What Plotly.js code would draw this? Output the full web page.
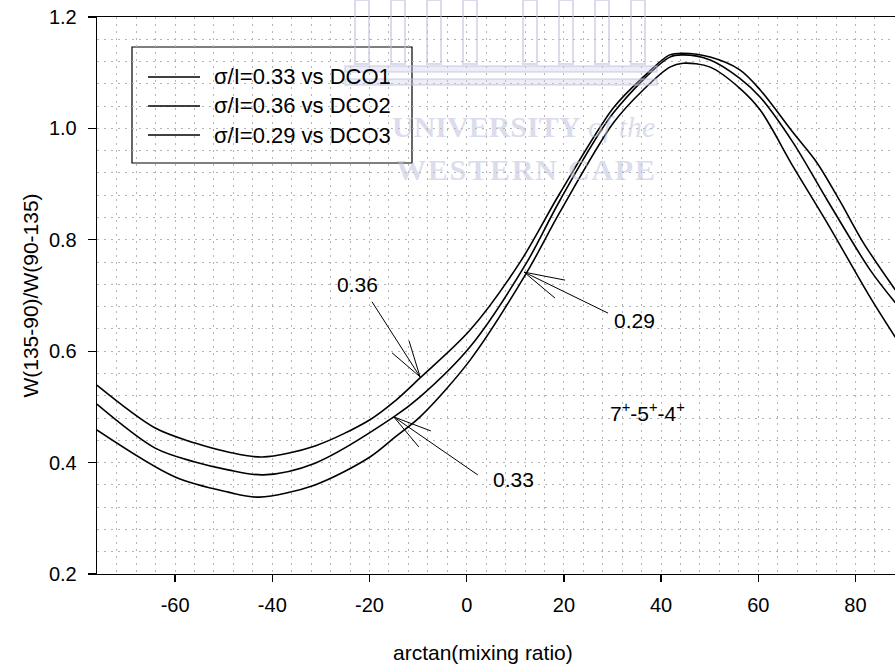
<!DOCTYPE html>
<html><head><meta charset="utf-8">
<script src="https://cdn.plot.ly/plotly-3.0.1.min.js"></script>
<style>html,body{margin:0;padding:0;background:#fff}#chart{width:895px;height:666px}</style>
</head><body><div id="chart"></div>
<script>
// ---- data ----
const seriesNames = ['σ/I=0.33 vs DCO1', 'σ/I=0.36 vs DCO2', 'σ/I=0.29 vs DCO3'];

const xDCO1 = [-76.1, -64.1, -55.9, -49.1, -41.8, -31.2, -15.0, -9.6, 0.7, 12.4, 19.2, 30.2, 41.8, 44.5, 50.1, 56.2, 60.4, 67.2, 74.2, 83.0, 88.2];
const yDCO1 = [0.505, 0.426, 0.401, 0.387, 0.378, 0.399, 0.482, 0.518, 0.608, 0.760, 0.871, 1.028, 1.128, 1.132, 1.123, 1.090, 1.056, 0.974, 0.871, 0.746, 0.687];

const xDCO2 = [-76.1, -64.1, -55.9, -49.1, -42.1, -31.2, -19.9, -14.7, -9.6, 0.7, 11.0, 19.2, 30.2, 36.3, 41.8, 44.5, 50.1, 56.2, 60.4, 67.2, 72.1, 76.9, 81.6, 88.2];
const yDCO2 = [0.539, 0.462, 0.435, 0.419, 0.410, 0.430, 0.477, 0.511, 0.552, 0.638, 0.760, 0.884, 1.037, 1.092, 1.132, 1.135, 1.128, 1.105, 1.069, 0.992, 0.938, 0.868, 0.795, 0.710];

const xDCO3 = [-76.1, -60.0, -49.1, -42.7, -31.2, -19.9, -14.7, -9.6, 0.7, 12.4, 19.2, 30.2, 36.3, 41.8, 44.5, 50.1, 56.2, 60.4, 67.2, 74.2, 83.0, 88.2];
const yDCO3 = [0.4585, 0.374, 0.347, 0.338, 0.360, 0.410, 0.446, 0.482, 0.584, 0.742, 0.850, 1.010, 1.069, 1.110, 1.117, 1.110, 1.072, 1.033, 0.931, 0.830, 0.697, 0.625];

const xTickVals = [-60, -40, -20, 0, 20, 40, 60, 80];
const xTickText = ['-60', '-40', '-20', '0', '20', '40', '60', '80'];
const yTickVals = [0.2, 0.4, 0.6, 0.8, 1.0, 1.2];
const yTickText = ['0.2', '0.4', '0.6', '0.8', '1.0', '1.2'];

// labelled arrows: text, text position, arrow tip (on a curve)
const arrowLabels = ['0.36', '0.33', '0.29'];
const labelX = [-22.4, 9.6, 34.6];
const labelY = [0.719, 0.369, 0.656];
const tipX = [-9.6, -15.0, 11.8];
const tipY = [0.554, 0.482, 0.742];

const stateLabel = '7<sup>+</sup>-5<sup>+</sup>-4<sup>+</sup>';
const xTitle = 'arctan(mixing ratio)';
const yTitle = 'W(135-90)/W(90-135)';
const xRange = [-76.07, 88.13];
const yRange = [0.2, 1.2];

// ---- styling ----
const FONT = 'Liberation Sans, Arial, Helvetica, sans-serif';
const gridStyle = {gridcolor: '#b4b4b4', griddash: '2px,5px', gridwidth: 1};
const M = {l: 97, r: 0, t: 17, b: 92};
const PW = 895 - M.l - M.r, PH = 666 - M.t - M.b;
const px = v => (v - M.l) / PW;           // page pixel -> paper x (decoration / layout only)
const py = v => (666 - M.b - v) / PH;     // page pixel -> paper y (decoration / layout only)

const xs = [xDCO1, xDCO2, xDCO3];
const ys = [yDCO1, yDCO2, yDCO3];
const traces = xs.map((x, i) => ({
  type: 'scatter', mode: 'lines', x: x, y: ys[i], name: seriesNames[i],
  line: {color: '#000', width: 1.6, shape: 'spline', smoothing: 0.9},
  showlegend: false, hoverinfo: 'skip'
}));

// arrow geometry (pixel offsets from the tip, screen y down): shaft tail and the two barbs of the open head
const shaft = [[-48, -75], [84, 58], [84, 41]];
const barbs = [[[-11, -36], [-28, -24]], [[37, 14], [25, 30]], [[41, 8], [31, 26]]];

const annotations = [];
const shapes = [];
const wm = 'rgba(188,192,220,0.55)';

// faint watermark logo overlaid on the figure
const colX = [362, 398, 434, 470, 530, 566, 602, 638];
colX.forEach(c => shapes.push({type: 'rect', xref: 'paper', yref: 'paper', layer: 'above',
  x0: px(c - 7), x1: px(c + 7), y0: py(64), y1: py(0), line: {color: wm, width: 2}, fillcolor: 'rgba(0,0,0,0)'}));
[[66, 72], [79, 85]].forEach(b => shapes.push({type: 'rect', xref: 'paper', yref: 'paper', layer: 'above',
  x0: px(345), x1: px(657), y0: py(b[1]), y1: py(b[0]), line: {color: wm, width: 1.5}, fillcolor: 'rgba(200,204,228,0.35)'}));

arrowLabels.forEach((t, i) => {
  annotations.push({x: labelX[i], y: labelY[i], xref: 'x', yref: 'y', text: t, showarrow: false,
    font: {family: FONT, size: 21, color: '#000'}});
  [shaft[i]].concat(barbs[i]).forEach(b => shapes.push({type: 'line', xref: 'x', yref: 'y', xsizemode: 'pixel', ysizemode: 'pixel',
    xanchor: tipX[i], yanchor: tipY[i], x0: 0, y0: 0, x1: b[0], y1: -b[1], line: {color: '#000', width: 1}}));
});
annotations.push({x: 37.1, y: 0.491, xref: 'x', yref: 'y', text: stateLabel, showarrow: false,
  font: {family: FONT, size: 21, color: '#000'}});

// legend drawn as a framed box with line samples
const rowY = [77, 106, 135];
shapes.push({type: 'rect', xref: 'paper', yref: 'paper', x0: px(132), x1: px(412), y0: py(163), y1: py(47),
  line: {color: '#000', width: 1.2}, fillcolor: '#fff', layer: 'below'});
seriesNames.forEach((n, i) => {
  shapes.push({type: 'line', xref: 'paper', yref: 'paper', x0: px(148), x1: px(200), y0: py(rowY[i]), y1: py(rowY[i]),
    line: {color: '#000', width: 1.6}, layer: 'above'});
  annotations.push({x: px(212), y: py(rowY[i]), xref: 'paper', yref: 'paper', xanchor: 'left', yanchor: 'middle',
    text: n, showarrow: false, font: {family: FONT, size: 22, color: '#000'}});
});

// x axis title (placed as in the reference)
annotations.push({x: px(483), y: py(652), xref: 'paper', yref: 'paper', xanchor: 'center', yanchor: 'middle',
  text: xTitle, showarrow: false, font: {family: FONT, size: 21, color: '#000'}});

// watermark text
annotations.push({x: px(657), y: py(127), xref: 'paper', yref: 'paper', xanchor: 'right', yanchor: 'middle', showarrow: false,
  text: '<b>UNIVERSITY</b> <i>of the</i>',
  font: {family: 'Liberation Serif, DejaVu Serif, serif', size: 30, color: wm}});
annotations.push({x: px(659), y: py(170), xref: 'paper', yref: 'paper', xanchor: 'right', yanchor: 'middle', showarrow: false,
  text: '<span style="letter-spacing:1.8px"><b>WESTERN CAPE</b></span>',
  font: {family: 'Liberation Serif, DejaVu Serif, serif', size: 30, color: wm}});

const layout = {
  width: 895, height: 666,
  margin: M,
  paper_bgcolor: '#fff', plot_bgcolor: '#fff',
  font: {family: FONT, size: 20, color: '#000'},
  showlegend: false,
  xaxis: Object.assign({
    range: xRange, tickmode: 'array', tickvals: xTickVals, ticktext: xTickText,
    ticks: 'outside', ticklen: 7, tickwidth: 1.3, tickcolor: '#000',
    showline: true, linecolor: '#000', linewidth: 1.3, mirror: true, zeroline: false, showgrid: true,
    ticklabelstandoff: 6,
    tickfont: {family: FONT, size: 20, color: '#000'},
    minor: Object.assign({tick0: 0, dtick: 4, showgrid: true, ticks: ''}, gridStyle)
  }, gridStyle),
  yaxis: Object.assign({
    range: yRange, tickmode: 'array', tickvals: yTickVals, ticktext: yTickText,
    ticks: 'outside', ticklen: 8, tickwidth: 1.3, tickcolor: '#000',
    showline: true, linecolor: '#000', linewidth: 1.3, mirror: false, zeroline: false, showgrid: true,
    ticklabelstandoff: 7,
    tickfont: {family: FONT, size: 20, color: '#000'},
    minor: Object.assign({tick0: 0.2, dtick: 0.04, showgrid: true, ticks: ''}, gridStyle),
    title: {text: yTitle, font: {family: FONT, size: 21, color: '#000'}, standoff: 4}
  }, gridStyle),
  annotations: annotations,
  shapes: shapes
};

Plotly.newPlot('chart', traces, layout, {displayModeBar: false, staticPlot: true});
</script>
</body></html>
